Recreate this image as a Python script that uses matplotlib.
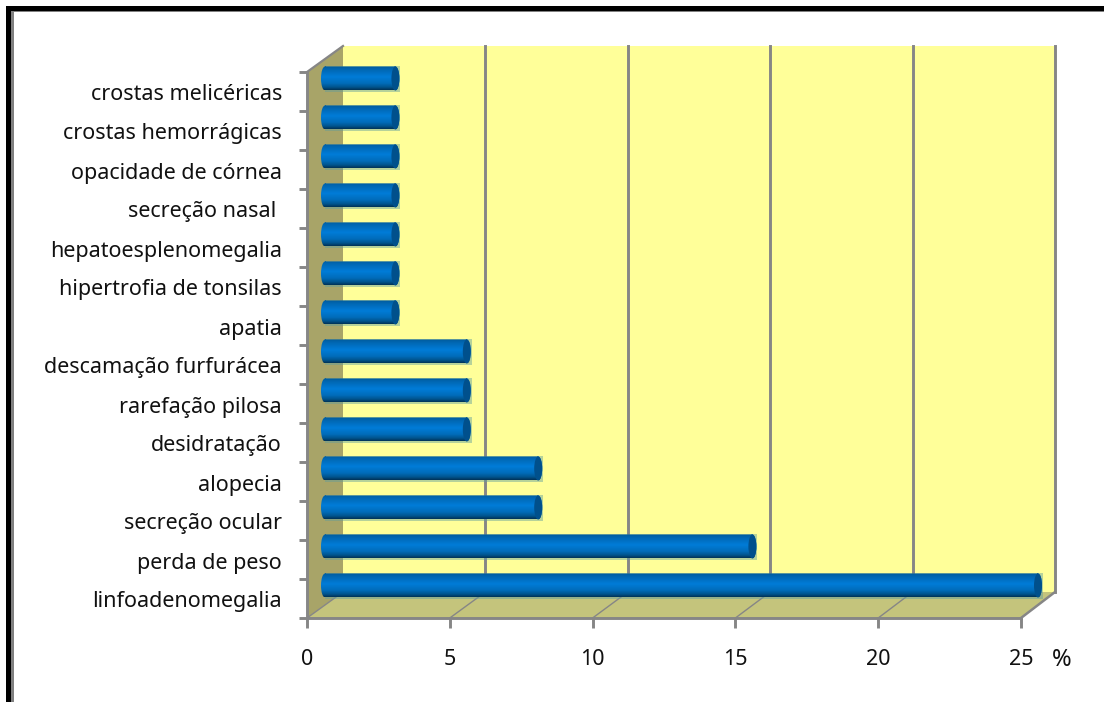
import numpy as np
import matplotlib
matplotlib.use('Agg')
import matplotlib.pyplot as plt
from matplotlib.patches import Polygon, Ellipse, PathPatch, Rectangle
from matplotlib.path import Path
from matplotlib.transforms import Affine2D, ScaledTranslation
from matplotlib.colors import LinearSegmentedColormap

plt.rcParams['font.family'] = ['Noto Sans', 'DejaVu Sans']

# de baixo para cima
categorias = ['linfoadenomegalia', 'perda de peso', 'secreção ocular', 'alopecia',
              'desidratação', 'rarefação pilosa', 'descamação furfurácea', 'apatia',
              'hipertrofia de tonsilas', 'hepatoesplenomegalia', 'secreção nasal ',
              'opacidade de córnea', 'crostas hemorrágicas', 'crostas melicéricas']
valores = [25, 15, 7.5, 7.5, 5, 5, 5, 2.5, 2.5, 2.5, 2.5, 2.5, 2.5, 2.5]
ticks_x = [0, 5, 10, 15, 20, 25]

W, H = 1104, 702
fig = plt.figure(figsize=(W / 100, H / 100), dpi=100)
# plano frontal do grafico 3D, em pixels
x0, x1, y0, y1 = 307, 1021, 618, 72
ax = fig.add_axes([x0 / W, 1 - y0 / H, (x1 - x0) / W, (y0 - y1) / H])
ax.patch.set_visible(False)

px = 25 / (x1 - x0)
py = 14 / (y0 - y1)
dy = 26 * py


def fundo(x):
    # posicao x no plano de tras
    return x + (36 - 2 * x / 25) * px


cinza = '#868686'
ax.add_patch(Polygon([(0, 0), (fundo(0), dy), (fundo(0), 14 + dy), (0, 14)], fc='#a8a468', ec='none', clip_on=False, zorder=1))
ax.add_patch(Rectangle((fundo(0), dy), fundo(25) - fundo(0), 14, fc='#ffff99', ec='none', clip_on=False, zorder=1))
ax.add_patch(Polygon([(0, 0), (25, 0), (fundo(25), dy), (fundo(0), dy)], fc='#c4c47c', ec='none', clip_on=False, zorder=1))

ax.plot([0, fundo(0)], [14, 14 + dy], color=cinza, lw=1.6, clip_on=False, zorder=2)
ax.plot([25, fundo(25)], [0, dy], color=cinza, lw=1.8, clip_on=False, zorder=2)
for t in ticks_x[1:]:
    ax.plot([fundo(t), fundo(t)], [dy, 14 + dy], color=cinza, lw=2.1, clip_on=False, zorder=2)
for t in ticks_x[:-1]:
    ax.plot([t, fundo(t)], [0, dy], color=cinza, lw=1, clip_on=False, zorder=2)

# barras em cilindro
cmap = LinearSegmentedColormap.from_list('cil', [(0, '#005a9c'), (0.15, '#0068b4'), (0.45, '#007cd8'),
                                                 (0.72, '#006cba'), (0.88, '#00558f'), (1, '#003358')])
grad = np.linspace(0, 1, 64).reshape(-1, 1)
inicio = 17 * px
meia = 12 * py
raio = 4 * px
for i, v in enumerate(valores):
    yc = i + 0.5 + 13 * py
    xa = inicio + 1 * px
    xb = inicio + v
    ax.add_patch(Rectangle((xa, yc - meia - 1.5 * py), xb - xa + 5 * px, 2 * meia + 2 * py, fc='#5f9c9c', ec='none', alpha=0.45, clip_on=False, zorder=3))
    corpo = Path.make_compound_path(
        Path.unit_rectangle().transformed(Affine2D().scale(xb - xa, 2 * meia).translate(xa, yc - meia)),
        Path.unit_circle().transformed(Affine2D().scale(raio, meia).translate(xa, yc)),
        Path.unit_circle().transformed(Affine2D().scale(raio, meia).translate(xb, yc)))
    im = ax.imshow(grad, cmap=cmap, aspect='auto', extent=(xa - raio, xb + raio, yc - meia, yc + meia), zorder=4)
    clip = PathPatch(corpo, transform=ax.transData, fc='none', ec='none')
    ax.add_patch(clip)
    im.set_clip_box(fig.bbox)
    im.set_clip_path(clip)
    ax.add_patch(Ellipse((xb, yc), 2 * raio, 2 * meia, fc='#00508c', ec='none', clip_on=False, zorder=5))

ax.set_xlim(0, 25)
ax.set_ylim(0, 14)

for s in ['top', 'right']:
    ax.spines[s].set_visible(False)
for s in ['left', 'bottom']:
    ax.spines[s].set_color(cinza)
    ax.spines[s].set_linewidth(2.1)
    ax.spines[s].set_zorder(6)

ax.set_xticks(ticks_x)
ax.set_xticklabels([str(t) for t in ticks_x], fontsize=15.5, color='#111111')
ax.tick_params(axis='x', length=7, width=2.1, color=cinza, pad=15)
ax.set_yticks(np.arange(15))
ax.set_yticklabels([])
ax.tick_params(axis='y', which='major', length=5.5, width=2.1, color=cinza)
ax.set_yticks(np.arange(14) + 0.5, minor=True)
ax.set_yticklabels(categorias, minor=True, fontsize=15.5, color='#111111')
ax.tick_params(axis='y', which='minor', length=0, pad=18)
desce = ScaledTranslation(0, -1 / 100, fig.dpi_scale_trans)
for lab in ax.get_yticklabels(minor=True):
    lab.set_transform(lab.get_transform() + desce)

fig.text(1062 / W, 1 - 660 / H, '%', fontsize=17, color='#111111', va='center', ha='center')

# moldura
fig.add_artist(Rectangle((6 / W, 0), 5 / W, 1 - 6 / H, transform=fig.transFigure, fc='black', ec='none'))
fig.add_artist(Rectangle((6 / W, 1 - 11 / H), 1, 5 / H, transform=fig.transFigure, fc='black', ec='none'))
fig.add_artist(Rectangle((11 / W, 0), 3 / W, 1 - 11 / H, transform=fig.transFigure, fc='#808080', ec='none'))
fig.add_artist(Rectangle((11 / W, 1 - 12 / H), 1, 1 / H, transform=fig.transFigure, fc='#808080', ec='none'))

fig.savefig('out.png', dpi=100)
